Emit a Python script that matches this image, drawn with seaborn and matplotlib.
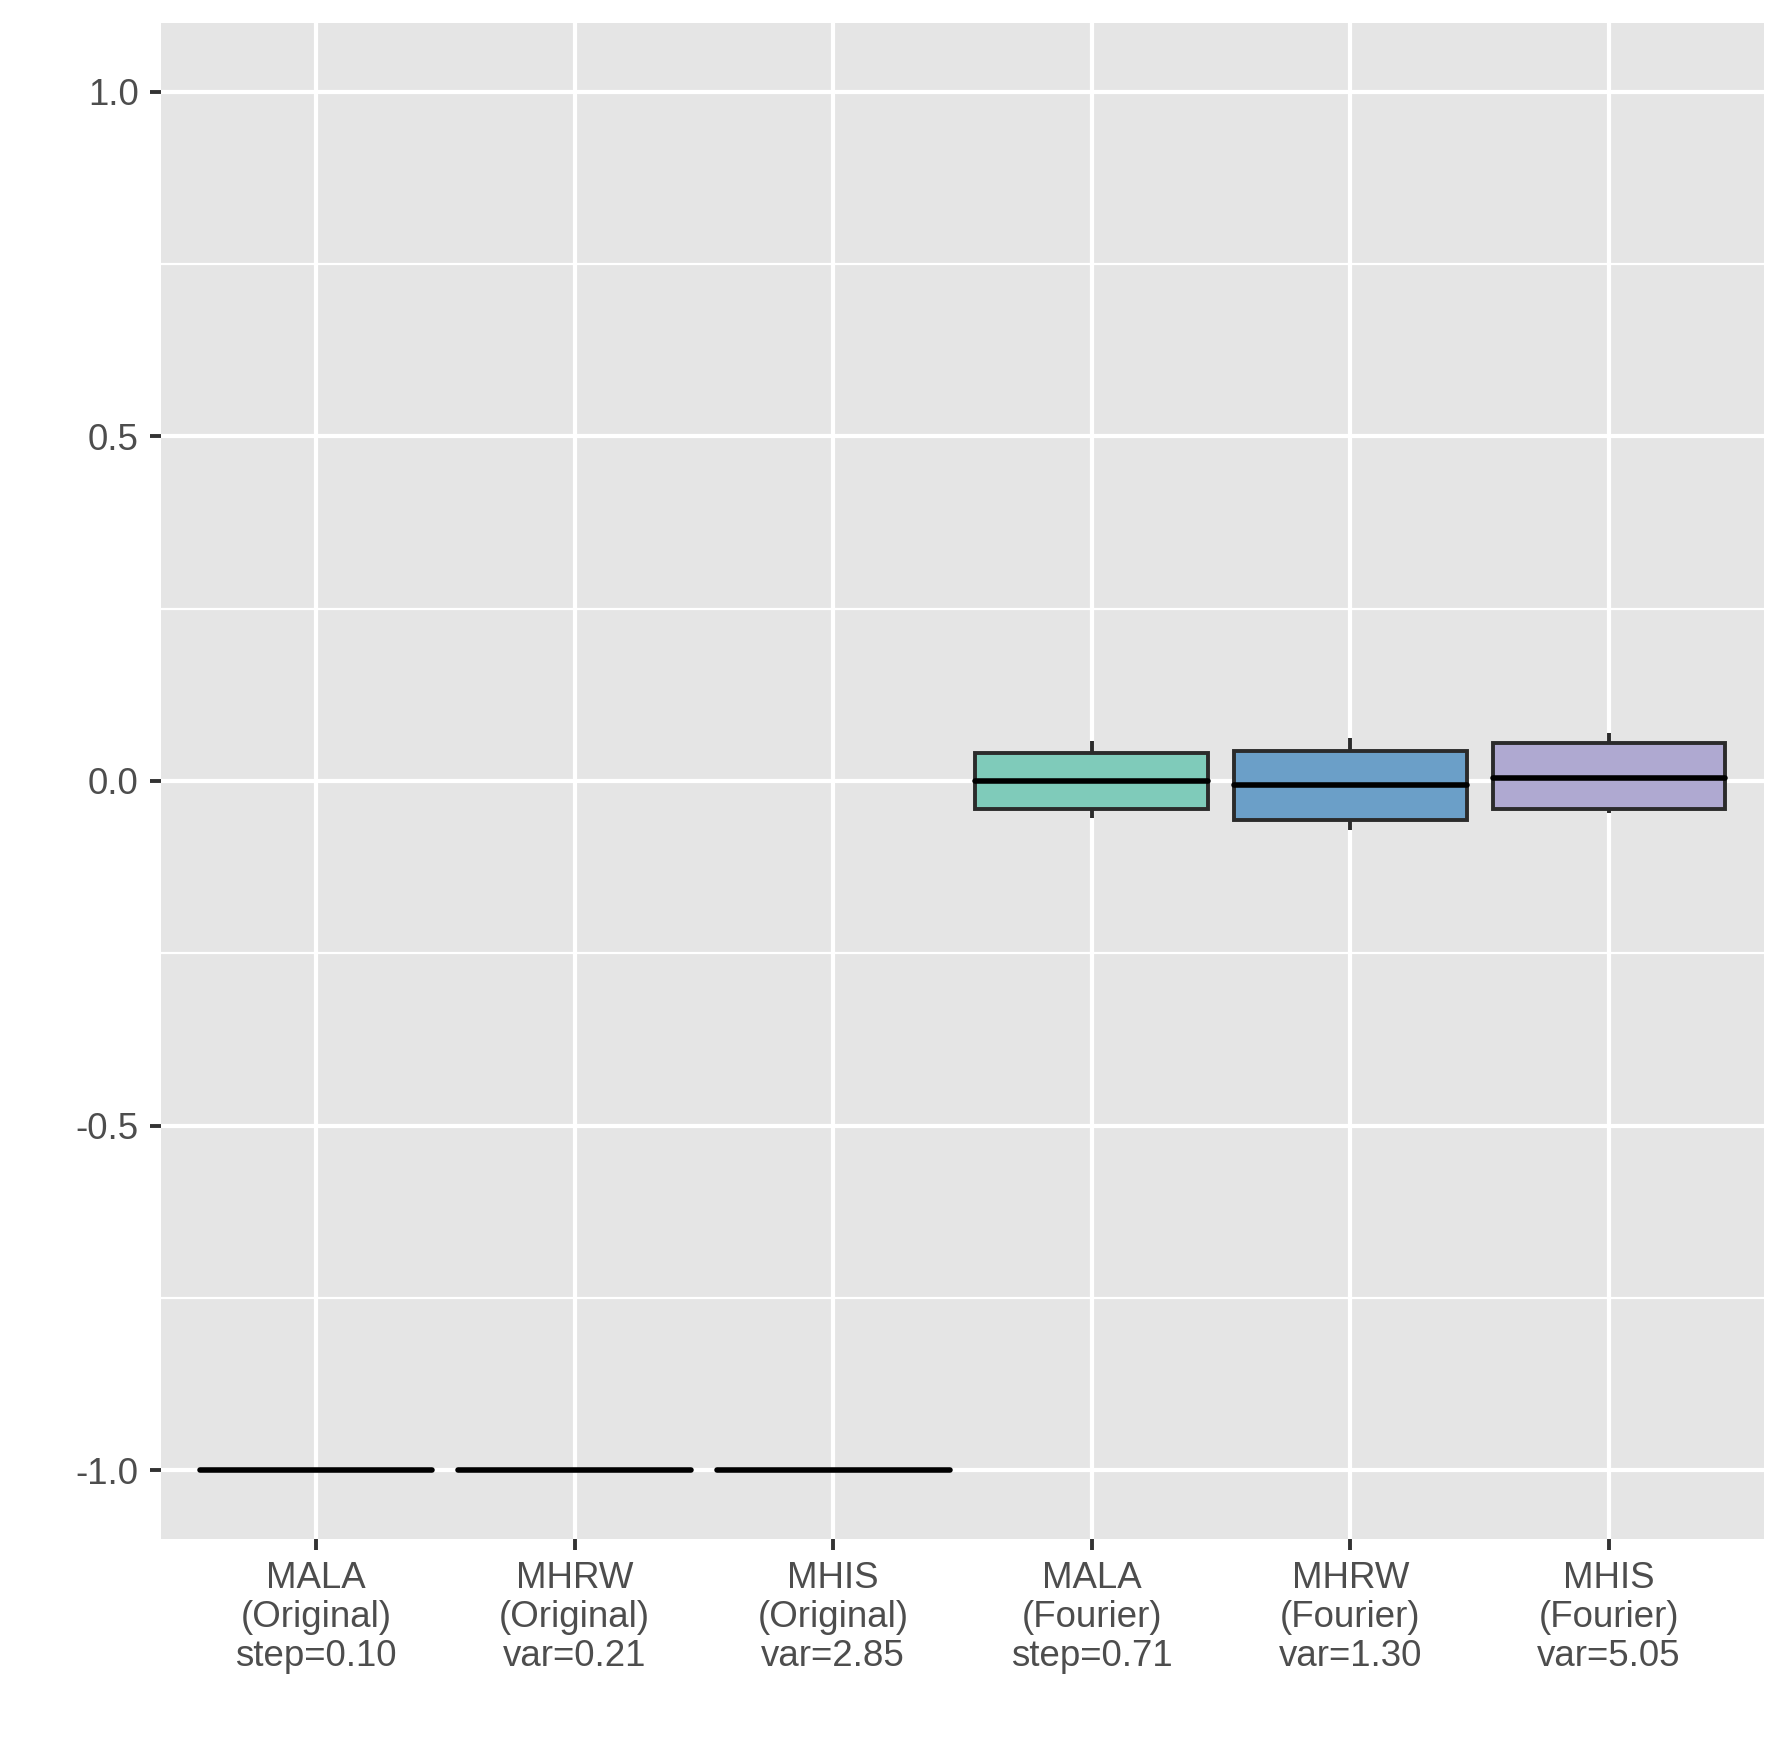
import numpy as np
import pandas as pd
import seaborn as sns
import matplotlib.pyplot as plt
from matplotlib.ticker import FixedLocator

# sampler labels (x axis)
labels = ["MALA\n(Original)\nstep=0.10", "MHRW\n(Original)\nvar=0.21", "MHIS\n(Original)\nvar=2.85",
          "MALA\n(Fourier)\nstep=0.71", "MHRW\n(Fourier)\nvar=1.30", "MHIS\n(Fourier)\nvar=5.05"]

# five numbers per sampler: lower whisker, q1, median, q3, upper whisker
mala_orig = [-1.0, -1.0, -1.0, -1.0, -1.0]
mhrw_orig = [-1.0, -1.0, -1.0, -1.0, -1.0]
mhis_orig = [-1.0, -1.0, -1.0, -1.0, -1.0]
mala_four = [-0.053, -0.041, 0.000, 0.041, 0.058]
mhrw_four = [-0.071, -0.056, -0.006, 0.043, 0.063]
mhis_four = [-0.047, -0.040, 0.005, 0.055, 0.069]

fills = ["#7FCBBA", "#6B9FC8", "#AFA9D1", "#7FCBBA", "#6B9FC8", "#AFA9D1"]

groups = [mala_orig, mhrw_orig, mhis_orig, mala_four, mhrw_four, mhis_four]
df = pd.DataFrame({
    "method": np.repeat(labels, 5),
    "value": np.concatenate(groups),
})

plt.rcParams['font.family'] = ['Liberation Sans', 'DejaVu Sans']

fig = plt.figure(figsize=(1787 / 200, 1754 / 200), dpi=200)
ax = fig.add_axes([161 / 1787, 1 - 1539 / 1754, (1764 - 161) / 1787, (1539 - 23) / 1754])
ax.set_facecolor("#E5E5E5")

sns.boxplot(
    data=df, x="method", y="value", hue="method", order=labels, hue_order=labels,
    palette=fills, legend=False, width=0.9, whis=(0, 100),
    linecolor="#2B2B2B", linewidth=1.4, showcaps=False, saturation=1,
    medianprops={"color": "black", "linewidth": 2.0, "solid_capstyle": "round"},
    whiskerprops={"color": "#2B2B2B", "linewidth": 1.4},
    ax=ax, zorder=3,
)

ax.set_xlim(-0.6, 5.6)
ax.set_ylim(-1.1, 1.1)
ax.set_yticks([-1.0, -0.5, 0.0, 0.5, 1.0])
ax.set_yticklabels(["-1.0", "-0.5", "0.0", "0.5", "1.0"])
ax.yaxis.set_minor_locator(FixedLocator([-0.75, -0.25, 0.25, 0.75]))
ax.set_xlabel("")
ax.set_ylabel("")

ax.grid(True, which="major", color="white", linewidth=1.5)
ax.grid(True, which="minor", axis="y", color="white", linewidth=0.8)
ax.set_axisbelow(True)
for s in ax.spines.values():
    s.set_visible(False)

ax.tick_params(axis="both", which="major", length=4, width=1.4, color="#333333",
               labelcolor="#4D4D4D", labelsize=13.2, pad=4)
ax.tick_params(axis="y", which="minor", length=0)
for t in ax.get_xticklabels():
    t.set_linespacing(1.15)

fig.savefig("out.png", dpi=200, facecolor="white")
